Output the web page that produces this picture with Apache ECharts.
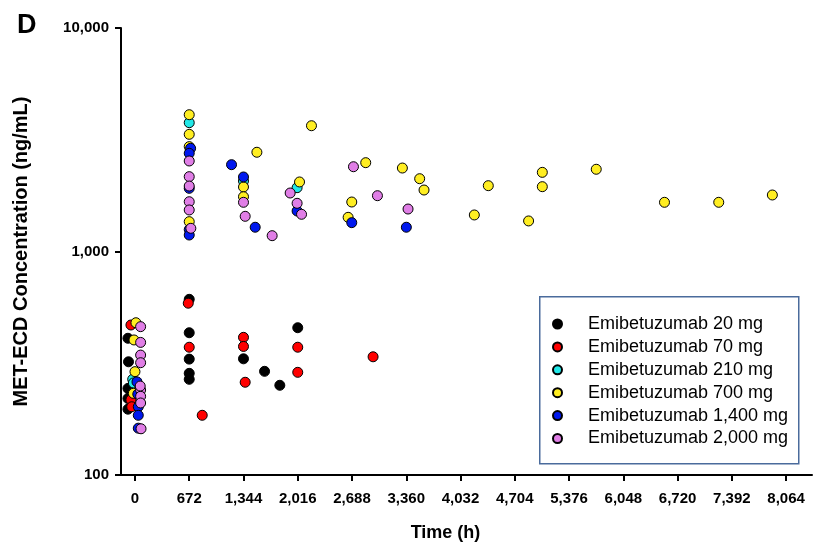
<!DOCTYPE html>
<html>
<head>
<meta charset="utf-8">
<script src="https://cdn.jsdelivr.net/npm/echarts@6/dist/echarts.min.js"></script>
<style>
html,body{margin:0;padding:0;background:#fff;}
#chart{width:815px;height:543px;}
</style>
</head>
<body>
<div id="chart"></div>
<script>
// ---- data (time in h, concentration in ng/mL) ----
const seriesNames = ["Emibetuzumab 20 mg","Emibetuzumab 70 mg","Emibetuzumab 210 mg","Emibetuzumab 700 mg","Emibetuzumab 1,400 mg","Emibetuzumab 2,000 mg"];
const seriesColors = ["#000000","#ff0000","#22e8e8","#ffee22","#0018ee","#e07ee6"];

const dose20 = [[-87,409],[-80,321],[-87,244],[-87,220],[-87,197],
  [672,611],[672,433],[672,330],[672,285],[672,268],
  [1344,331],[1605,291],[1794,252],[2016,456]];
const dose70 = [[-50,469],[-50,217],[-40,202],
  [660,587],[672,373],[833,185],
  [1344,413],[1344,376],[1365,260],[2016,373],[2016,288],[2949,338]];
const dose210 = [[-28,268],[-20,258],
  [672,3770],
  [1344,2067],[2008,1930]];
const dose700 = [[12,480],[-12,402],[0,290],[-20,232],
  [672,4093],[672,3344],[672,2946],[672,1360],
  [1510,2780],[2186,3654],[1344,1944],[1344,1758],[2038,2047],[2685,1665],[2640,1422],
  [2858,2497],[3312,2363],[3526,2117],[3580,1884],[4376,1970],[4203,1457],
  [5045,2260],[5045,1950],[4875,1370],[5713,2333],[6558,1660],[7230,1660],[7894,1790]];
const dose1400 = [[25,261],[41,202],[41,185],[41,162],[35,230],
  [689,2895],[672,2750],[672,1917],[672,1253],[672,1185],
  [1196,2446],[1344,2155],[1489,1284],[2008,1518],[2685,1346],[3361,1284]];
const dose2000 = [[70,461],[70,392],[70,344],[70,318],[70,240],[70,225],[70,210],[65,250],[75,161],
  [672,2541],[672,2162],[672,1963],[672,1670],[672,1534],[692,1270],
  [1344,1660],[1365,1437],[1699,1177],[1922,1827],[2008,1643],[2063,1467],
  [2706,2395],[3003,1777],[3382,1549]];
const seriesData = [dose20,dose70,dose210,dose700,dose1400,dose2000];

const xTicks = [0,672,1344,2016,2688,3360,4032,4704,5376,6048,6720,7392,8064];
const xMin = -173, xMax = 8385;
const yMin = 100, yMax = 10000;

const fmt = v => Number(v).toLocaleString('en-US');
const FONT = "'Liberation Sans', Arial, sans-serif";

const chart = echarts.init(document.getElementById('chart'), null, {renderer:'canvas'});
chart.setOption({
  animation:false,
  backgroundColor:'#fff',
  grid:{left:121,right:3,top:28,bottom:68,containLabel:false,outerBoundsMode:'none'},
  xAxis:{
    type:'value', min:xMin, max:xMax,
    splitLine:{show:false},
    axisLine:{show:true,onZero:false,lineStyle:{color:'#000',width:2}},
    axisTick:{show:true,length:6,lineStyle:{color:'#000',width:2},customValues:xTicks},
    axisLabel:{show:true,margin:16,customValues:xTicks,formatter:fmt,
      color:'#000',fontFamily:FONT,fontWeight:'bold',fontSize:15},
    name:'Time (h)', nameLocation:'middle', nameGap:49,
    nameTextStyle:{color:'#000',fontFamily:FONT,fontWeight:'bold',fontSize:18,padding:[0,42,0,0]}
  },
  yAxis:{
    type:'log', logBase:10, min:yMin, max:yMax,
    splitLine:{show:false}, minorTick:{show:false},
    axisLine:{show:true,onZero:false,lineStyle:{color:'#000',width:2}},
    axisTick:{show:true,length:6,lineStyle:{color:'#000',width:2}},
    axisLabel:{margin:12,formatter:fmt,color:'#000',fontFamily:FONT,fontWeight:'bold',fontSize:15},
    name:'MET-ECD Concentration (ng/mL)', nameLocation:'middle', nameGap:90,
    nameTextStyle:{color:'#000',fontFamily:FONT,fontWeight:'bold',fontSize:20}
  },
  legend:{
    orient:'vertical', left:547, top:310,
    itemWidth:9, itemHeight:9, itemGap:4.9,
    icon:'circle',
    textStyle:{color:'#000',fontFamily:FONT,fontSize:18,lineHeight:18,padding:[0,0,0,21]},
    data:seriesNames
  },
  graphic:[
    {type:'rect',z:0,left:539,top:296,shape:{width:259,height:167},
      style:{fill:'#fff',stroke:'#4a6b9c',lineWidth:1.5}},
    {type:'text',left:17,top:12,style:{text:'D',fill:'#000',font:"bold 27px 'Liberation Sans', Arial, sans-serif"}}
  ],
  series: seriesNames.map((n,i)=>({
    name:n, type:'scatter', data:seriesData[i], symbol:'circle', symbolSize:10,
    itemStyle:{color:seriesColors[i],borderColor:'#000',borderWidth:1,opacity:1}
  }))
});
</script>
</body>
</html>
